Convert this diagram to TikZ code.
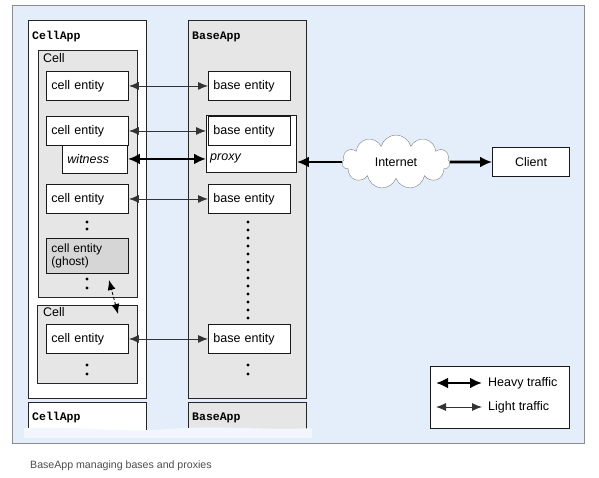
\documentclass[tikz,border=0pt]{standalone}
\usepackage{fontspec}
\setmainfont{Liberation Sans}
\newfontfamily\appfont{Liberation Mono}
\usetikzlibrary{positioning,arrows.meta,shapes.symbols}
\definecolor{panelbg}{HTML}{E3EEFA}
\definecolor{cellgray}{HTML}{E6E6E6}
\definecolor{ghostgray}{HTML}{D6D6D6}

\begin{document}
\begin{tikzpicture}[x=1pt,y=-1pt,
	txt/.style={font=\fontsize{12.5}{14}\selectfont},
	appbox/.style={draw=black!85,line width=0.9pt,anchor=north west,inner sep=0pt},
	cellbox/.style={draw=black!85,fill=cellgray,line width=0.9pt,anchor=north west,inner sep=0pt},
	entity/.style={draw=black!90,fill=white,line width=0.9pt,anchor=north west,txt,
		text width=72pt,inner xsep=5pt,minimum height=29pt,align=left},
	applabel/.style={anchor=west,font=\appfont\bfseries\fontsize{11.5}{13}\selectfont,inner sep=0pt},
	celllabel/.style={anchor=west,txt,inner sep=0pt},
	lighttip/.tip={Latex[length=10pt,width=8pt]},
	heavytip/.tip={Latex[length=12pt,width=11pt]},
	light/.style={lighttip-lighttip,draw=black!80,line width=0.9pt},
	heavyboth/.style={heavytip-heavytip,draw=black,line width=2.8pt},
	heavyto/.style={-heavytip,draw=black,line width=2.8pt},
	dot/.style={fill=black}]

	% background panel
	\fill[panelbg,draw=black!45,line width=0.8pt] (12,5) rectangle (584,443);
	\useasboundingbox (0,0) rectangle (599,477);

	% applications
	\node[appbox,fill=white,minimum width=118pt,minimum height=378pt] (cellapp) at (28,20) {};
	\node[appbox,fill=cellgray,minimum width=118pt,minimum height=378pt] (baseapp) at (188,20) {};
	\node[applabel] (cellappname) at (32,37) {CellApp};
	\node[applabel] (baseappname) at (192,37) {BaseApp};

	% cells
	\node[cellbox,minimum width=99pt,minimum height=247pt] (cellA) at (38,50) {};
	\node[celllabel] (cellAname) at (43,58) {Cell};
	\node[cellbox,minimum width=100pt,minimum height=78pt] (cellB) at (37,305) {};
	\node[celllabel] (cellBname) at (43,312) {Cell};

	% cell side
	\node[entity] (ce1) at (46,71) {cell entity};
	\node[entity,text width=55pt] (wit) at (62,144) {\itshape witness};
	\node[entity] (ce2) at (46,116) {cell entity};
	\node[entity] (ce3) at (46,184) {cell entity};
	\node[entity,fill=ghostgray,minimum height=35pt,font=\fontsize{12}{13}\selectfont] (ghost) at (46,238) {cell entity\\(ghost)};
	\node[entity] (ce4) at (46,324) {cell entity};

	% base side
	\node[entity] (be1) at (208,71) {base entity};
	\node[draw=black!90,fill=white,line width=0.9pt,anchor=north west,minimum width=90pt,minimum height=57pt,inner sep=0pt] (proxy) at (206,115) {};
	\node[entity] (be2) at (208,116) {base entity};
	\node[anchor=west,txt,inner sep=0pt] (proxyname) at (210,158) {\itshape proxy};
	\node[entity] (be3) at (208,184) {base entity};
	\node[entity] (be4) at (208,324) {base entity};

	% more apps below
	\node[anchor=north west,fill=white,minimum width=118pt,minimum height=30pt,inner sep=0pt] (cellapp2) at (28,402) {};
	\node[anchor=north west,fill=cellgray,minimum width=118pt,minimum height=30pt,inner sep=0pt] (baseapp2) at (188,402) {};
	\draw[black!85,line width=0.9pt] (cellapp2.south west) -- (cellapp2.north west) -- (cellapp2.north east) -- (cellapp2.south east);
	\draw[black!85,line width=0.9pt] (baseapp2.south west) -- (baseapp2.north west) -- (baseapp2.north east) -- (baseapp2.south east);
	\fill[white!55!panelbg] (24,428) .. controls (80,426) and (120,433) .. (168,429) .. controls (230,425) and (270,431) .. (312,428) -- (312,438) -- (24,438) -- cycle;
	\node[applabel] (cellapp2name) at (32,418) {CellApp};
	\node[applabel] (baseapp2name) at (192,418) {BaseApp};

	% dots
	\foreach \y in {222,229,279,288,365,374}
		\fill[dot] (87,\y) circle (1.6pt);
	\foreach \y in {222,230,...,318}
		\fill[dot] (248,\y) circle (1.6pt);
	\foreach \y in {365,374}
		\fill[dot] (248,\y) circle (1.6pt);

	% migration between cells
	\coordinate (migtop) at (109,280);
	\coordinate (migbot) at (118,314);
	\draw[densely dashed,line width=0.8pt,lighttip-lighttip] (migbot) -- (migtop);

	% cell <-> base
	\draw[light] (ce1.east) -- (be1.west);
	\draw[light] (ce2.east) -- (ce2.east -| proxy.west);
	\draw[heavyboth] (wit.east) -- (wit.east -| proxy.west);
	\draw[light] (ce3.east) -- (be3.west);
	\draw[light] (ce4.east) -- (be4.west);

	% client side
	\node[cloud,cloud puffs=11,aspect=2.1,draw=black!50,fill=white,minimum width=108pt,minimum height=54pt,txt,inner sep=0pt] (internet) at (396,162) {Internet};
	\node[draw=black!90,fill=white,line width=0.9pt,minimum width=77pt,minimum height=29pt,txt] (client) at (531,162) {Client};
	\draw[heavyto] (internet.west) -- (internet.west -| proxy.east);
	\draw[heavyto] (internet.east) -- (client.west);

	% legend
	\node[draw=black!90,fill=white,line width=0.9pt,anchor=north west,minimum width=139pt,minimum height=62pt,inner sep=0pt] (legend) at (430,366) {};
	\coordinate (hvyL) at (436,383);
	\coordinate (hvyR) at (482,383);
	\coordinate (lgtL) at (436,407);
	\coordinate (lgtR) at (482,407);
	\draw[heavyboth] (hvyL) -- (hvyR);
	\draw[light] (lgtL) -- (lgtR);
	\node[celllabel] (hvytext) at (488,383) {Heavy traffic};
	\node[celllabel] (lgttext) at (488,407) {Light traffic};

	% caption
	\node[anchor=west,inner sep=0pt,text=black!70,font=\fontsize{10.6}{12}\selectfont] (caption) at (30,466) {BaseApp managing bases and proxies};
\end{tikzpicture}
\end{document}
